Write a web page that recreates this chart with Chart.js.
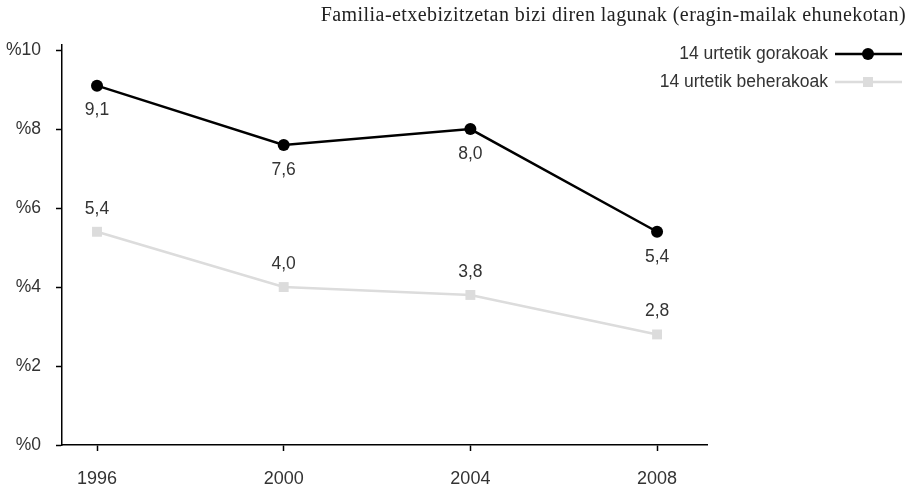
<!DOCTYPE html>
<html>
<head>
<meta charset="utf-8">
<script src="https://cdn.jsdelivr.net/npm/chart.js@4"></script>
<style>
  html, body { margin: 0; padding: 0; background: #fff; }
  #wrap { width: 916px; height: 488px; position: relative; }
</style>
</head>
<body>
<div id="wrap"><canvas id="chart"></canvas></div>
<script>
// Data
var years = [1996, 2000, 2004, 2008];
var overFourteen = [9.1, 7.6, 8.0, 5.4];
var underFourteen = [5.4, 4.0, 3.8, 2.8];
var yTicks = [0, 2, 4, 6, 8, 10];
var seriesNames = ['14 urtetik gorakoak', '14 urtetik beherakoak'];
var chartTitle = 'Familia-etxebizitzetan bizi diren lagunak (eragin-mailak ehunekotan)';

var sansFont = '"Liberation Sans", Arial, Helvetica, sans-serif';
var serifFont = '"Liberation Serif", "Times New Roman", serif';

function toPoints(values) {
    return years.map(function(y, i) { return { x: y, y: values[i] }; });
}

// Value labels: black below the point, grey above
var valueLabels = {
    id: 'valueLabels',
    afterDatasetsDraw: function(chart) {
        var ctx = chart.ctx;
        ctx.save();
        ctx.font = '17.5px ' + sansFont;
        ctx.fillStyle = '#333';
        ctx.textAlign = 'center';
        ctx.textBaseline = 'middle';
        chart.data.datasets.forEach(function(ds, di) {
            var meta = chart.getDatasetMeta(di);
            meta.data.forEach(function(pt, i) {
                var txt = ds.data[i].y.toFixed(1).replace('.', ',');
                var dy = di === 0 ? 25 : -23;
                ctx.fillText(txt, pt.x, pt.y + dy);
            });
        });
        ctx.restore();
    }
};

// Title and legend in the top right corner, sample after the text
var topRight = {
    id: 'topRight',
    afterDraw: function(chart) {
        var ctx = chart.ctx;
        ctx.save();
        ctx.font = '20px ' + serifFont;
        ctx.letterSpacing = '0.45px';
        ctx.fillStyle = '#222';
        ctx.textAlign = 'right';
        ctx.textBaseline = 'alphabetic';
        ctx.fillText(chartTitle, 906, 21);

        ctx.font = '17.5px ' + sansFont;
        ctx.letterSpacing = '0px';
        ctx.textBaseline = 'middle';
        chart.data.datasets.forEach(function(ds, i) {
            var y = 54 + i * 28;
            ctx.fillStyle = '#333';
            ctx.fillText(ds.label, 828, y);
            ctx.strokeStyle = ds.borderColor;
            ctx.lineWidth = ds.borderWidth;
            ctx.beginPath();
            ctx.moveTo(835, y);
            ctx.lineTo(902, y);
            ctx.stroke();
            ctx.fillStyle = ds.pointBackgroundColor;
            if (ds.pointStyle === 'rect') {
                ctx.fillRect(868 - 5, y - 5, 10, 10);
            } else {
                ctx.beginPath();
                ctx.arc(868, y, 6, 0, Math.PI * 2);
                ctx.fill();
            }
        });
        ctx.restore();
    }
};

new Chart(document.getElementById('chart'), {
    type: 'line',
    data: {
        datasets: [{
            label: seriesNames[0],
            data: toPoints(overFourteen),
            borderColor: '#000',
            borderWidth: 2.5,
            pointStyle: 'circle',
            pointRadius: 6,
            pointBackgroundColor: '#000',
            pointBorderWidth: 0,
            tension: 0
        }, {
            label: seriesNames[1],
            data: toPoints(underFourteen),
            borderColor: '#dcdcdc',
            borderWidth: 2.5,
            pointStyle: 'rect',
            pointRadius: 7,
            pointBackgroundColor: '#dcdcdc',
            pointBorderWidth: 0,
            tension: 0
        }]
    },
    options: {
        responsive: true,
        maintainAspectRatio: false,
        animation: false,
        layout: { padding: { top: 45, right: 209, left: 0, bottom: 0 } },
        plugins: {
            legend: { display: false },
            title: { display: false },
            tooltip: { enabled: false }
        },
        scales: {
            x: {
                type: 'linear',
                min: 1995.25,
                max: 2009.07,
                afterBuildTicks: function(s) {
                    s.ticks = years.map(function(v) { return { value: v }; });
                },
                afterFit: function(s) { s.height = 43; },
                border: { color: '#000', width: 1.5 },
                grid: { drawOnChartArea: false, drawTicks: true, tickLength: 6, tickColor: '#000', tickWidth: 1.5 },
                ticks: {
                    color: '#333',
                    font: { family: sansFont, size: 18 },
                    padding: 17,
                    maxRotation: 0,
                    callback: function(v) { return String(v); }
                }
            },
            y: {
                min: 0,
                max: 10.13,
                afterBuildTicks: function(s) {
                    s.ticks = yTicks.map(function(v) { return { value: v }; });
                },
                afterFit: function(s) { s.width = 62; },
                border: { color: '#000', width: 1.5 },
                grid: { drawOnChartArea: false, drawTicks: true, tickLength: 6, tickColor: '#000', tickWidth: 1.5 },
                ticks: {
                    color: '#333',
                    font: { family: sansFont, size: 17.5 },
                    padding: 15,
                    callback: function(v) { return '%' + v; }
                }
            }
        }
    },
    plugins: [valueLabels, topRight]
});
</script>
</body>
</html>
